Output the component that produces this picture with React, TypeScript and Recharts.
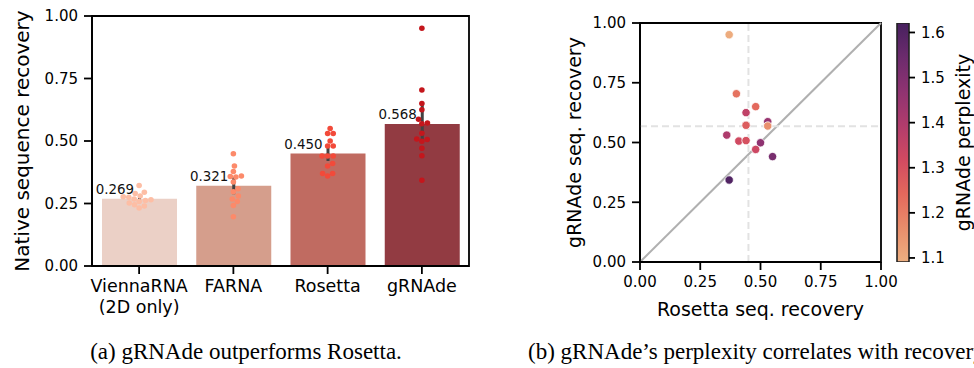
import React from "react";
import {
  ComposedChart,
  ScatterChart,
  BarChart,
  Bar,
  Scatter,
  XAxis,
  YAxis,
  ErrorBar,
  LabelList,
  Label,
  ReferenceLine,
  ReferenceArea,
  Cell,
} from "recharts";

const FONT = "'DejaVu Sans', sans-serif";

// per-structure native sequence recovery, 14 RNAs per method
const methods = ["ViennaRNA\n(2D only)", "FARNA", "Rosetta", "gRNAde"];
const viennaRecovery = [0.322, 0.295, 0.29, 0.28, 0.277, 0.275, 0.268, 0.265, 0.262, 0.258, 0.252, 0.245, 0.24, 0.232];
const farnaRecovery = [0.449, 0.4, 0.378, 0.36, 0.358, 0.356, 0.336, 0.309, 0.297, 0.28, 0.268, 0.258, 0.242, 0.197];
const rosettaRecovery = [0.37, 0.4, 0.48, 0.44, 0.53, 0.44, 0.53, 0.36, 0.41, 0.44, 0.5, 0.48, 0.55, 0.37];
const grnadeRecovery = [0.951, 0.704, 0.65, 0.625, 0.587, 0.572, 0.569, 0.531, 0.506, 0.508, 0.499, 0.471, 0.441, 0.343];
const grnadePerplexity = [1.1, 1.22, 1.24, 1.36, 1.45, 1.27, 1.16, 1.4, 1.32, 1.3, 1.47, 1.33, 1.52, 1.6];

// 95% CI of the mean (error bars)
const ciLow = [0.257, 0.287, 0.42, 0.5];
const ciHigh = [0.281, 0.355, 0.48, 0.645];

const barColors = ["#EBD0C6", "#D59E8C", "#C06B61", "#923B42"];
const pointColors = ["#FDBEA5", "#FC8A6A", "#F24A3A", "#C4161C"];

const recoveryTicks = [0, 0.25, 0.5, 0.75, 1];
const perplexityTicks = [1.1, 1.2, 1.3, 1.4, 1.5, 1.6];
const perplexityRange = [1.091, 1.621];

// seaborn "flare"
const flareStops: [number, string][] = [
  [0, "#EDB081"],
  [0.143, "#E98D6B"],
  [0.286, "#E3685C"],
  [0.429, "#D14A61"],
  [0.571, "#B13C6C"],
  [0.714, "#8F3371"],
  [0.857, "#6C2B6D"],
  [1, "#47215F"],
];

const recoveryByMethod = [viennaRecovery, farnaRecovery, rosettaRecovery, grnadeRecovery];

function mean(a: number[]) {
  return a.reduce((s, v) => s + v, 0) / a.length;
}

function hexToRgb(h: string) {
  const n = parseInt(h.slice(1), 16);
  return [(n >> 16) & 255, (n >> 8) & 255, n & 255];
}

function flare(p: number) {
  const t = Math.min(1, Math.max(0, (p - perplexityRange[0]) / (perplexityRange[1] - perplexityRange[0])));
  for (let i = 1; i < flareStops.length; i++) {
    const [t1, c1] = flareStops[i];
    const [t0, c0] = flareStops[i - 1];
    if (t <= t1) {
      const f = (t - t0) / (t1 - t0);
      const a = hexToRgb(c0);
      const b = hexToRgb(c1);
      const m = a.map((v, k) => Math.round(v + (b[k] - v) * f));
      return `rgb(${m[0]},${m[1]},${m[2]})`;
    }
  }
  return flareStops[flareStops.length - 1][1];
}

// simple beeswarm: place each point as close to the centre as possible without overlap (px space)
const LEFT_PLOT_H = 250;
const LEFT_BAND = 377 / 4;
const DOT_R = 2.8;

function swarm(values: number[]) {
  const d = DOT_R * 2;
  const order = values.map((_, i) => i).sort((a, b) => values[a] - values[b]);
  const placed: { x: number; y: number }[] = [];
  const out = new Array(values.length).fill(0);
  for (const i of order) {
    const y = values[i] * LEFT_PLOT_H;
    const cands = [0];
    for (const p of placed) {
      const dy = Math.abs(p.y - y);
      if (dy < d) {
        const dx = Math.sqrt(d * d - dy * dy);
        cands.push(p.x + dx, p.x - dx);
      }
    }
    cands.sort((a, b) => Math.abs(a) - Math.abs(b));
    const x = cands.find((c) => placed.every((p) => (p.x - c) ** 2 + (p.y - y) ** 2 >= d * d - 1e-6)) ?? 0;
    placed.push({ x, y });
    out[i] = x;
  }
  return out;
}

const barData = methods.map((name, i) => {
  const m = mean(recoveryByMethod[i]);
  return { name, mean: m, err: [m - ciLow[i], ciHigh[i] - m] };
});

const swarmData = recoveryByMethod.flatMap((vals, i) => {
  const offs = swarm(vals);
  return vals.map((v, k) => ({ sx: i + offs[k] / LEFT_BAND, v, c: pointColors[i] }));
});

const scatterData = rosettaRecovery.map((x, i) => ({ x, y: grnadeRecovery[i], p: grnadePerplexity[i] }));

const rotatedTitle = (text: string, dx: number, size: number) => (props: any) => {
  const vb = props.viewBox || {};
  const x = vb.x + dx;
  const y = vb.y + vb.height / 2;
  return (
    <text x={x} y={y} transform={`rotate(-90, ${x}, ${y})`} textAnchor="middle" fontSize={size} fontFamily={FONT} fill="#000">
      {text}
    </text>
  );
};

const MethodTick = (props: any) => {
  const { x, y, payload } = props;
  const lines = String(payload.value).split("\n");
  return (
    <text x={x} y={y} textAnchor="middle" fontSize={17.5} fontFamily={FONT} fill="#000">
      {lines.map((l, k) => (
        <tspan key={k} x={x} dy={k === 0 ? "0.9em" : "1.2em"}>
          {l}
        </tspan>
      ))}
    </text>
  );
};

const MeanLabel = (props: any) => {
  const vb = props.viewBox || props;
  const x = Number(vb.x) + Number(vb.width) / 2 - 5.5;
  const y = Number(vb.y) - 4.5;
  return (
    <text x={x} y={y} textAnchor="end" fontSize={13.4} fontFamily={FONT} fill="#111">
      {Number(props.value).toFixed(3)}
    </text>
  );
};

const tickStyle = { fontSize: 15, fontFamily: FONT, fill: "#000" };
const axisStroke = { stroke: "#000", strokeWidth: 1.8 };

function RecoveryBars() {
  return (
    <ComposedChart width={490} height={320} data={barData} margin={{ top: 16, right: 21, bottom: 0, left: 0 }}>
      <XAxis dataKey="name" height={54} tick={<MethodTick />} tickSize={8} tickLine={axisStroke} axisLine={axisStroke} interval={0} />
      <XAxis xAxisId="swarm" type="number" dataKey="sx" domain={[-0.5, 3.5]} allowDataOverflow hide />
      <YAxis
        domain={[0, 1]}
        ticks={recoveryTicks}
        tickFormatter={(v: number) => v.toFixed(2)}
        width={92}
        tickSize={8}
        tickMargin={6}
        tick={tickStyle}
        tickLine={axisStroke}
        axisLine={axisStroke}
        label={<Label content={rotatedTitle("Native sequence recovery", 29, 20)} />}
      />
      <YAxis yAxisId="sy" dataKey="v" domain={[0, 1]} hide />
      <Bar dataKey="mean" barSize={75} isAnimationActive={false}>
        {barData.map((_, i) => (
          <Cell key={i} fill={barColors[i]} />
        ))}
        <ErrorBar dataKey="err" width={0} stroke="#424242" strokeWidth={3} />
        <LabelList dataKey="mean" content={<MeanLabel />} />
      </Bar>
      <Scatter
        xAxisId="swarm"
        yAxisId="sy"
        data={swarmData}
        dataKey="v"
        isAnimationActive={false}
        shape={(p: any) => <circle cx={p.cx} cy={p.cy} r={DOT_R} fill={p.payload.c} />}
      />
      <ReferenceArea y1={0} y2={1} fill="none" stroke="#000" strokeWidth={1.8} />
    </ComposedChart>
  );
}

function PerplexityScatter() {
  return (
    <ScatterChart width={340} height={330} margin={{ top: 23, right: 19, bottom: 0, left: 0 }}>
      <XAxis
        type="number"
        dataKey="x"
        domain={[0, 1]}
        ticks={recoveryTicks}
        tickFormatter={(v: number) => v.toFixed(2)}
        height={68}
        tickSize={8}
        tickMargin={6}
        tick={tickStyle}
        tickLine={axisStroke}
        axisLine={axisStroke}
        label={
          <Label
            content={(props: any) => {
              const vb = props.viewBox || {};
              return (
                <text x={vb.x + vb.width / 2} y={vb.y + 54} textAnchor="middle" fontSize={19} fontFamily={FONT} fill="#000">
                  Rosetta seq. recovery
                </text>
              );
            }}
          />
        }
      />
      <YAxis
        type="number"
        dataKey="y"
        domain={[0, 1]}
        ticks={recoveryTicks}
        tickFormatter={(v: number) => v.toFixed(2)}
        width={80}
        tickSize={8}
        tickMargin={6}
        tick={tickStyle}
        tickLine={axisStroke}
        axisLine={axisStroke}
        label={<Label content={rotatedTitle("gRNAde seq. recovery", 21, 19)} />}
      />
      <ReferenceLine segment={[{ x: 0, y: 0 }, { x: 1, y: 1 }]} stroke="#b0b0b0" strokeWidth={2} />
      <ReferenceLine x={mean(rosettaRecovery)} stroke="#e2e2e2" strokeWidth={2} strokeDasharray="7 4" />
      <ReferenceLine y={mean(grnadeRecovery)} stroke="#e2e2e2" strokeWidth={2} strokeDasharray="7 4" />
      <Scatter
        data={scatterData}
        isAnimationActive={false}
        shape={(p: any) => <circle cx={p.cx} cy={p.cy} r={4.2} fill={flare(p.payload.p)} stroke="#fff" strokeWidth={0.8} />}
      />
      <ReferenceArea x1={0} x2={1} y1={0} y2={1} fill="none" stroke="#000" strokeWidth={1.8} />
    </ScatterChart>
  );
}

function PerplexityColorbar() {
  const data = [{ name: "cb", range: perplexityRange }];
  return (
    <BarChart width={104} height={330} data={data} margin={{ top: 23, right: 0, bottom: 68, left: 27 }} barCategoryGap={0}>
      <defs>
        <linearGradient id="flareGrad" x1="0" y1="1" x2="0" y2="0">
          {flareStops.map(([t, c]) => (
            <stop key={t} offset={`${t * 100}%`} stopColor={c} />
          ))}
        </linearGradient>
      </defs>
      <XAxis dataKey="name" hide />
      <YAxis
        orientation="right"
        domain={perplexityRange}
        ticks={perplexityTicks}
        allowDataOverflow
        width={65}
        tickSize={6}
        tickMargin={6}
        tick={tickStyle}
        tickLine={axisStroke}
        axisLine={false}
        label={<Label content={rotatedTitle("gRNAde perplexity", 61, 19)} />}
      />
      <Bar dataKey="range" fill="url(#flareGrad)" stroke="#222" strokeWidth={1.6} isAnimationActive={false} />
    </BarChart>
  );
}

export default function App() {
  return (
    <div style={{ position: "absolute", left: 0, top: 0, width: 974, height: 368, background: "#fff", overflow: "hidden" }}>
      <div style={{ position: "absolute", left: 0, top: 0 }}>
        <RecoveryBars />
      </div>
      <div style={{ position: "absolute", left: 560, top: 0 }}>
        <PerplexityScatter />
      </div>
      <div style={{ position: "absolute", left: 870, top: 0 }}>
        <PerplexityColorbar />
      </div>
      <svg style={{ position: "absolute", left: 0, top: 320 }} width={974} height={48}>
        <text x={246} y={39} textAnchor="middle" fontSize={23} fontFamily="'Liberation Serif', serif" fill="#000">
          (a) gRNAde outperforms Rosetta.
        </text>
        <text x={528} y={39} fontSize={23} fontFamily="'Liberation Serif', serif" fill="#000">
          (b) gRNAde’s perplexity correlates with recovery.
        </text>
      </svg>
    </div>
  );
}
